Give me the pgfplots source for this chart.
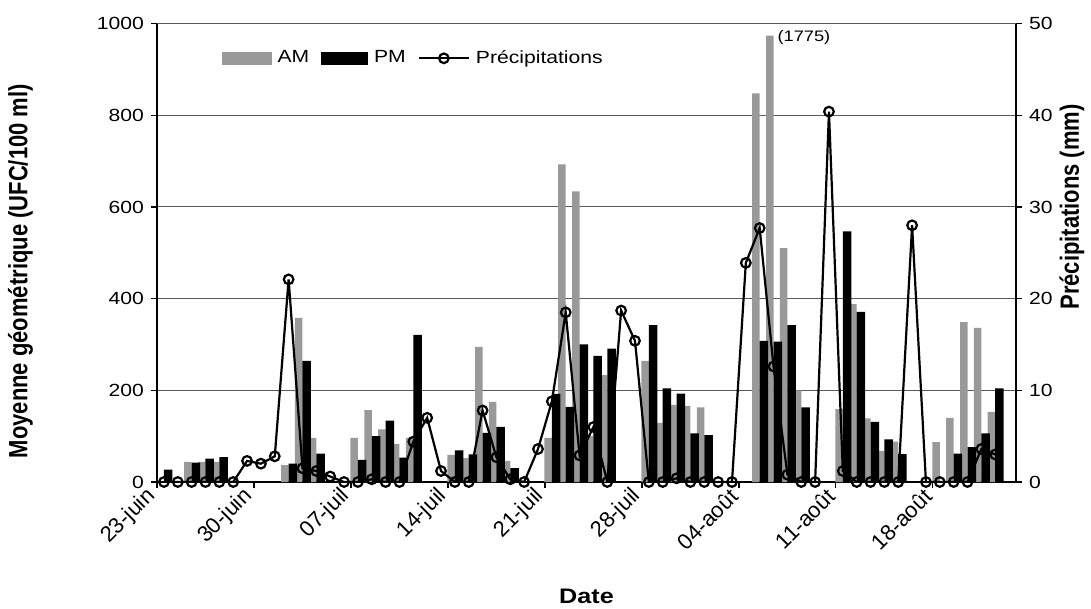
\documentclass[border=0pt]{standalone}
\usepackage{pgfplots}
\pgfplotsset{compat=1.18}
\usepackage{graphicx}
\usepackage{fontspec}
\setmainfont{Liberation Sans}
\definecolor{amgray}{RGB}{153,153,153}
\definecolor{gridgray}{RGB}{90,90,90}
% the reference text is a little wider than plain Arial
\newcommand{\wide}[1]{\scalebox{1.2}[1]{#1}}
\newcommand{\ylab}[1]{\scalebox{1}[1.2]{\fontsize{11}{13}\selectfont\bfseries #1}}
\pgfplotsset{
  preciplegend/.style={legend image code/.code={%
    \draw[mark repeat=2, mark phase=2, ##1] plot coordinates {(0pt,0pt) (12.5pt,0pt) (25pt,0pt)};}},
  base/.style={
    scale only axis, width=429.5pt, height=229.2pt,
    xmin=-0.5, xmax=61.5,
    /pgf/number format/assume math mode=true,
    /pgf/number format/1000 sep={},
    tick label style={font=\fontsize{8.8}{10}\selectfont},
    yticklabel={\wide{\pgfmathprintnumber{\tick}}},
    tick align=outside, major tick length=3pt,
    axis line style={-, line width=0.7pt, black},
    every tick/.style={black, line width=0.6pt},
  }
}

\begin{document}
\begin{tikzpicture}
% left axis: bars (UFC/100 ml)
\begin{axis}[base, name=main,
  ymin=0, ymax=1000, ytick={0,200,...,1000},
  axis y line*=left, axis x line*=bottom,
  ymajorgrids, grid style={gridgray, line width=0.5pt},
  xtick={-0.5,6.5,...,55.5},
  xticklabels={23-juin,30-juin,07-juil,14-juil,21-juil,28-juil,04-août,11-août,18-août},
  xticklabel style={rotate=45, anchor=east, font=\fontsize{11}{12}\selectfont},
  xlabel={\wide{Date}},
  ylabel={\ylab{Moyenne géométrique (UFC/100 ml)}},
  xlabel style={at={(axis description cs:0.5,-0.25)}, anchor=center,
    font=\fontsize{10.5}{12}\selectfont\bfseries},
  ylabel style={at={(axis description cs:-0.159,0.46)}, anchor=center},
]
% AM
\addplot[ybar, bar width=3.75pt, bar shift=-1.875pt, fill=amgray, draw=none] coordinates {
  (2,44) (3,44) (4,44) (9,37) (10,358) (11,96) (14,96) (15,157) (16,115)
  (17,83) (18,96) (21,59) (22,52) (23,295) (24,175) (25,46) (28,96)
  (29,693) (30,634) (31,100) (32,233) (35,264) (36,129) (37,168) (38,166)
  (39,163) (43,848) (44,974) (45,510) (46,200) (49,159) (50,388) (51,139)
  (52,68) (53,88) (56,87) (57,140) (58,349) (59,336) (60,153)
};
% PM
\addplot[ybar, bar width=4.25pt, bar shift=2.125pt, fill=black, draw=none] coordinates {
  (0,27) (2,42) (3,51) (4,54) (9,40) (10,264) (11,62) (14,48) (15,100)
  (16,134) (17,53) (18,321) (21,69) (22,60) (23,107) (24,120) (25,30)
  (28,192) (29,164) (30,300) (31,275) (32,291) (35,342) (36,204) (37,193)
  (38,106) (39,102) (43,308) (44,306) (45,342) (46,163) (49,547) (50,371)
  (51,131) (52,93) (53,61) (57,62) (58,76) (59,106) (60,204)
};
\node[anchor=west, inner sep=0pt, font=\fontsize{7.6}{9}\selectfont] at (axis cs:44.26,970) {\wide{(1775)}};
\end{axis}

% right axis: precipitation
\begin{axis}[base,
  ymin=0, ymax=50, ytick={0,10,...,50},
  axis y line*=right, axis x line=none,
  ylabel={\ylab{Précipitations (mm)}},
  ylabel style={at={(axis description cs:1.065,0.6)}, anchor=center},
  legend style={at={(rel axis cs:0.068,0.96)}, anchor=north west, draw=none, fill=none,
    legend columns=3, font=\fontsize{8.8}{10}\selectfont,
    /tikz/every odd column/.append style={column sep=1pt},
    /tikz/every even column/.append style={column sep=4pt}},
]
\addlegendimage{legend image code/.code={\fill[amgray] (0pt,-3pt) rectangle (24.5pt,3pt);}}
\addlegendentry{\wide{AM}}
\addlegendimage{legend image code/.code={\fill[black] (0pt,-3pt) rectangle (23pt,3pt);}}
\addlegendentry{\wide{PM}}
\addplot[black, line width=1.1pt, mark=o, mark size=2.4pt,
  mark options={fill=white, line width=1.1pt}, preciplegend]
coordinates {
  (0,0) (1,0) (2,0) (3,0) (4,0) (5,0) (6,2.3) (7,2.0) (8,2.8) (9,22.1)
  (10,1.5) (11,1.2) (12,0.6) (13,0) (14,0) (15,0.3) (16,0) (17,0) (18,4.4) (19,7.0)
  (20,1.2) (21,0) (22,0) (23,7.8) (24,2.7) (25,0.3) (26,0) (27,3.6) (28,8.8) (29,18.5)
  (30,2.9) (31,6.0) (32,0) (33,18.7) (34,15.4) (35,0) (36,0) (37,0.4) (38,0) (39,0)
  (40,0) (41,0) (42,23.9) (43,27.7) (44,12.6) (45,0.8) (46,0) (47,0) (48,40.4) (49,1.2)
  (50,0) (51,0) (52,0) (53,0) (54,28.0) (55,0) (56,0) (57,0) (58,0) (59,3.6)
  (60,3.0)
};
\addlegendentry{\wide{Précipitations}}
\end{axis}
\pgfresetboundingbox
\path[use as bounding box] (main.south west) ++(-78.5pt,-63.5pt) rectangle ++(545.5pt,304.5pt);
\end{tikzpicture}
\end{document}
